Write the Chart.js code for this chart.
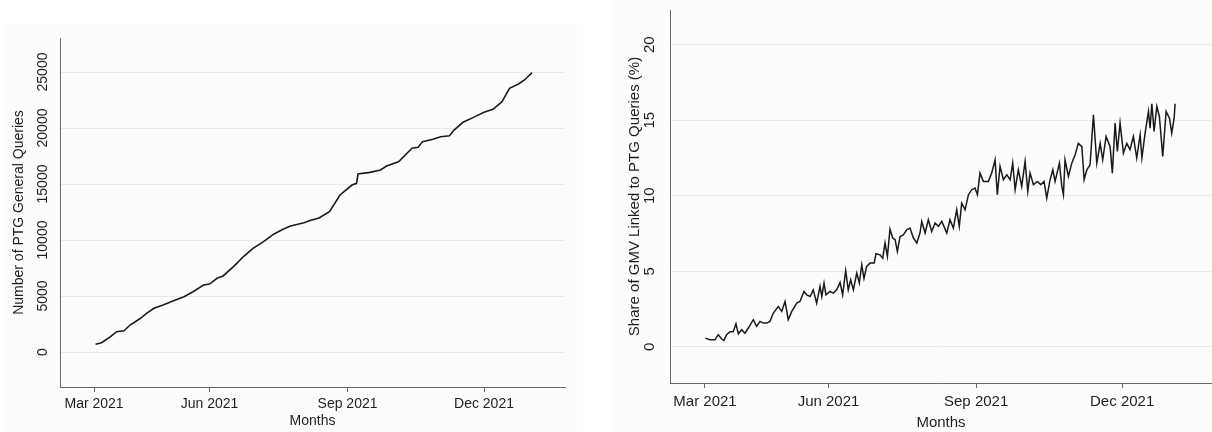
<!DOCTYPE html>
<html>
<head>
<meta charset="utf-8">
<script src="https://cdn.jsdelivr.net/npm/chart.js@4.4.1/dist/chart.umd.min.js"></script>
<style>
  html, body { margin: 0; padding: 0; background: #fff; }
  body { width: 1212px; height: 432px; position: relative; overflow: hidden; }
  .panel { position: absolute; background: #fcfcfc; }
  canvas { position: absolute; top: 0; }
</style>
</head>
<body>
<div class="panel" style="left:5px;top:25px;width:572px;height:407px"></div>
<div class="panel" style="left:612px;top:0;width:600px;height:432px"></div>
<canvas id="left" width="595" height="432" style="left:0"></canvas>
<canvas id="right" width="612" height="432" style="left:600px"></canvas>
<script>
// x values are days counted from 1 Mar 2021
const monthTicks = [15, 92, 184, 275];
const monthLabels = ['Mar 2021', 'Jun 2021', 'Sep 2021', 'Dec 2021'];

// left panel: cumulative PTG general queries
const queryDays = [16, 20, 26, 30, 35, 39, 46, 50, 55, 61, 68, 75, 81, 88, 92, 97, 101, 108, 115, 121,
  128, 135, 141, 146, 155, 159, 165, 172, 179, 187, 190, 191, 199, 206, 210, 218, 227, 231, 234, 241,
  246, 252, 255, 261, 268, 275, 281, 287, 292, 298, 302, 307];
const queryCounts = [690, 830, 1370, 1815, 1900, 2410, 3010, 3455, 3900, 4200, 4580, 4940, 5385, 5980,
  6070, 6580, 6790, 7620, 8570, 9250, 9850, 10540, 10960, 11250, 11545, 11750, 11970, 12530, 14020,
  14910, 15060, 15890, 16040, 16250, 16610, 16990, 18190, 18270, 18780, 18990, 19220, 19310, 19820,
  20510, 20950, 21400, 21670, 22350, 23550, 23930, 24290, 24940];
const queryTicks = [0, 5000, 10000, 15000, 20000, 25000];

// right panel: share of GMV linked to PTG queries (%)
const shareDays = [15.2, 18.1, 21.2, 23.3, 25.4, 26.8, 28.5, 30.6, 32.6, 34.3, 35.8, 37.9, 39.9, 42.0,
  45.1, 47.2, 49.3, 51.3, 53.5, 55.5, 57.6, 60.7, 62.8, 64.9, 66.9, 69.1, 72.2, 74.2, 76.7, 78.4, 80.5,
  82.5, 84.6, 86.7, 87.8, 89.2, 90.4, 92.9, 95.0, 97.1, 99.2, 100.8, 102.7, 104.3, 105.8, 107.5, 109.6,
  111.2, 112.7, 114.1, 115.8, 117.9, 120.4, 121.6, 124.1, 125.8, 127.2, 128.7, 130.3, 132.0, 133.5,
  134.9, 136.6, 138.6, 140.7, 142.8, 144.9, 147.0, 149.0, 150.1, 152.2, 154.2, 156.3, 158.4, 160.5,
  162.6, 165.7, 167.7, 169.8, 171.9, 173.5, 175.0, 177.1, 179.2, 181.3, 183.3, 184.8, 186.4, 188.5,
  191.6, 193.7, 195.8, 197.2, 198.9, 201.0, 203.1, 205.2, 206.8, 208.3, 210.3, 212.4, 214.5, 216.2,
  217.6, 219.7, 222.2, 224.3, 226.3, 228.0, 230.1, 231.8, 233.2, 235.9, 237.4, 238.4, 239.4, 241.5,
  243.6, 245.7, 247.7, 249.9, 251.3, 253.0, 255.0, 257.1, 259.2, 261.3, 262.9, 265.0, 267.5, 268.9,
  270.6, 272.0, 273.7, 275.8, 277.9, 279.9, 282.0, 284.1, 286.2, 287.3, 289.3, 291.4, 292.4, 293.5,
  294.9, 296.6, 298.2, 300.3, 302.4, 304.5, 305.9, 307.4, 308.0];
const shareValues = [0.57, 0.46, 0.46, 0.80, 0.51, 0.42, 0.80, 1.00, 1.00, 1.52, 0.86, 1.13, 0.90, 1.24,
  1.79, 1.35, 1.68, 1.57, 1.57, 1.68, 2.23, 2.67, 2.34, 3.00, 1.79, 2.34, 2.89, 3.00, 3.66, 3.44, 3.33,
  3.77, 2.89, 4.00, 3.33, 4.22, 3.44, 3.66, 3.55, 3.77, 4.26, 3.44, 5.05, 3.77, 4.44, 3.77, 4.88, 4.22,
  5.43, 4.53, 5.32, 5.54, 5.54, 6.16, 6.09, 5.87, 6.87, 5.98, 7.79, 7.20, 7.09, 6.31, 7.30, 7.40, 7.75,
  7.86, 7.20, 6.87, 7.53, 8.30, 7.53, 8.41, 7.64, 8.19, 7.97, 8.30, 7.53, 8.41, 7.86, 9.07, 7.97, 9.51,
  9.07, 10.07, 10.40, 10.51, 10.07, 11.50, 10.95, 10.95, 11.50, 12.38, 10.07, 11.94, 11.06, 11.39,
  11.06, 12.16, 10.40, 11.72, 10.62, 12.27, 10.29, 11.50, 10.73, 10.95, 10.73, 10.95, 9.85, 11.06,
  11.72, 10.95, 12.16, 10.62, 10.07, 12.38, 11.28, 12.16, 12.71, 13.47, 13.25, 11.06, 11.72, 12.05,
  15.36, 12.16, 13.47, 12.38, 13.93, 13.25, 11.50, 14.81, 12.93, 14.81, 12.82, 13.47, 13.05, 13.93,
  12.50, 14.04, 12.50, 14.15, 15.58, 14.48, 16.09, 14.26, 15.91, 15.25, 12.60, 15.58, 15.14, 14.15,
  15.14, 16.09];
const shareTicks = [0, 5, 10, 15, 20];

const FONT = '"Liberation Sans", Arial, sans-serif';
const TEXT = '#1e1e1e';
const AXIS = '#6a6a6a';
const GRID = '#e2ebf0';

Chart.defaults.font.family = FONT;
Chart.defaults.color = TEXT;

// Stata-style vertical tick labels on the y axis
const rotatedYLabels = {
  id: 'rotatedYLabels',
  afterDraw(chart, args, opts) {
    const { ctx } = chart;
    const y = chart.scales.y;
    ctx.save();
    ctx.fillStyle = TEXT;
    ctx.font = opts.size + 'px ' + FONT;
    ctx.textAlign = 'center';
    ctx.textBaseline = 'middle';
    y.ticks.forEach(t => {
      ctx.save();
      ctx.translate(opts.x, y.getPixelForValue(t.value));
      ctx.rotate(-Math.PI / 2);
      ctx.fillText(String(t.value), 0, 0);
      ctx.restore();
    });
    ctx.restore();
  }
};

const makeChart = (id, cfg) => {
  const points = cfg.days.map((d, i) => ({ x: d, y: cfg.values[i] }));
  return new Chart(document.getElementById(id), {
    type: 'line',
    data: {
      datasets: [{
        data: points,
        borderColor: '#1a1a1a',
        borderWidth: cfg.lineWidth,
        pointRadius: 0,
        tension: 0,
        fill: false,
      }],
    },
    options: {
      responsive: false,
      animation: false,
      devicePixelRatio: 1,
      layout: { padding: cfg.padding },
      plugins: {
        legend: { display: false },
        tooltip: { enabled: false },
        rotatedYLabels: { x: cfg.yLabelX, size: cfg.fontSize },
      },
      scales: {
        x: {
          type: 'linear',
          min: cfg.xMin,
          max: cfg.xMax,
          afterBuildTicks: s => { s.ticks = monthTicks.map(v => ({ value: v })); },
          afterFit: s => { s.height = cfg.xAxisHeight; },
          ticks: {
            autoSkip: false,
            maxRotation: 0,
            padding: cfg.xTickPad,
            font: { size: cfg.fontSize },
            callback: v => monthLabels[monthTicks.indexOf(v)],
          },
          grid: { drawOnChartArea: false, tickLength: 5, color: AXIS },
          border: { color: AXIS, width: 1 },
          title: { display: true, text: 'Months', font: { size: cfg.fontSize }, padding: { top: 0, bottom: cfg.monthsPad } },
        },
        y: {
          min: cfg.yMin,
          max: cfg.yMax,
          afterBuildTicks: s => { s.ticks = cfg.yTicks.map(v => ({ value: v })); },
          afterFit: s => { s.width = cfg.yAxisWidth; },
          ticks: { display: false },
          grid: { color: GRID, lineWidth: 1, drawTicks: false },
          border: { color: AXIS, width: 1 },
          title: { display: true, text: cfg.yTitle, font: { size: cfg.fontSize }, padding: { top: cfg.yTitlePad } },
        },
      },
    },
    plugins: [rotatedYLabels],
  });
};

makeChart('left', {
  days: queryDays,
  values: queryCounts,
  yTicks: queryTicks,
  yTitle: 'Number of PTG General Queries',
  xMin: -7.7, xMax: 329,
  yMin: -3125, yMax: 28036,
  padding: { left: 0, top: 38, right: 30, bottom: 0 },
  yAxisWidth: 60, xAxisHeight: 45,
  yLabelX: 43, yTitlePad: 11,
  xTickPad: 4, monthsPad: 2,
  fontSize: 14, lineWidth: 1.6,
});

makeChart('right', {
  days: shareDays,
  values: shareValues,
  yTicks: shareTicks,
  yTitle: 'Share of GMV Linked to PTG Queries (%)',
  xMin: -6.8, xMax: 331,
  yMin: -2.4, yMax: 22.3,
  padding: { left: 0, top: 10, right: 0, bottom: 0 },
  yAxisWidth: 70, xAxisHeight: 49,
  yLabelX: 50, yTitlePad: 26,
  xTickPad: 5, monthsPad: 0,
  fontSize: 15, lineWidth: 1.5,
});
</script>
</body>
</html>
